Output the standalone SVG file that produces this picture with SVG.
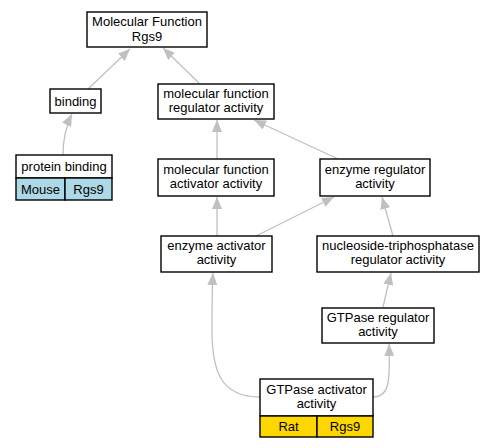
<svg xmlns="http://www.w3.org/2000/svg" width="493" height="448" viewBox="0 0 493 448">
<style>
.b{fill:#fff;stroke:#000;stroke-width:1.4}
.t{font-family:"Liberation Sans",Arial,sans-serif;font-size:13px;text-anchor:middle;fill:#000}
.e{fill:none;stroke:#c0c0c0;stroke-width:1.3}
.blue{fill:#add8e6;stroke:#000;stroke-width:1.4}
.gold{fill:#ffd700;stroke:#000;stroke-width:1.4}
</style>
<defs>
<marker id="a" viewBox="0 0 12 10" refX="12" refY="5" markerWidth="12" markerHeight="10" markerUnits="userSpaceOnUse" orient="auto">
<path d="M0,0 L12,5 L0,10 Z" fill="#c0c0c0"/>
</marker>
</defs>
<rect width="493" height="448" fill="#fff"/>
<g id="edges">
<path class="e" marker-end="url(#a)" d="M88,89 L130,49"/>
<path class="e" marker-end="url(#a)" d="M199,83 L163,48"/>
<path class="e" marker-end="url(#a)" d="M63,155 C63,140 66,126 72,114"/>
<path class="e" marker-end="url(#a)" d="M217,159 L217,120"/>
<path class="e" marker-end="url(#a)" d="M338,159 L254,120"/>
<path class="e" marker-end="url(#a)" d="M217,236 L217,197"/>
<path class="e" marker-end="url(#a)" d="M256,236 L334,197"/>
<path class="e" marker-end="url(#a)" d="M393,236 L382,197"/>
<path class="e" marker-end="url(#a)" d="M383,307 L391,273"/>
<path class="e" marker-end="url(#a)" d="M260,397 C220,397 212,370 212,330 C212,305 212,290 213,273"/>
<path class="e" marker-end="url(#a)" d="M373,397 C390,397 390,380 389,344"/>
</g>
<g id="n_mf">
<rect class="b" x="87" y="12" width="120" height="35"/>
<text class="t" x="147" y="26">Molecular Function</text>
<text class="t" x="147" y="41">Rgs9</text>
</g>
<g id="n_binding">
<rect class="b" x="50" y="89" width="51" height="24"/>
<text class="t" x="75.5" y="106">binding</text>
</g>
<g id="n_protein_binding">
<rect class="b" x="16" y="155" width="96" height="23"/>
<text class="t" x="64" y="171">protein binding</text>
<rect class="blue" x="16" y="178" width="49" height="22"/>
<rect class="blue" x="65" y="178" width="47" height="22"/>
<text class="t" x="40.5" y="193.5">Mouse</text>
<text class="t" x="88.5" y="193.5">Rgs9</text>
</g>
<g id="n_mfr">
<rect class="b" x="158" y="84" width="116" height="35"/>
<text class="t" x="216" y="98">molecular function</text>
<text class="t" x="216" y="112">regulator activity</text>
</g>
<g id="n_mfa">
<rect class="b" x="158" y="159" width="116" height="37"/>
<text class="t" x="216" y="174">molecular function</text>
<text class="t" x="216" y="188">activator activity</text>
</g>
<g id="n_er">
<rect class="b" x="320" y="159" width="110" height="37"/>
<text class="t" x="375" y="174">enzyme regulator</text>
<text class="t" x="375" y="188">activity</text>
</g>
<g id="n_ea">
<rect class="b" x="161" y="236" width="111" height="36"/>
<text class="t" x="216.5" y="250">enzyme activator</text>
<text class="t" x="216.5" y="264">activity</text>
</g>
<g id="n_ntp">
<rect class="b" x="317" y="236" width="162" height="36"/>
<text class="t" x="398" y="250">nucleoside-triphosphatase</text>
<text class="t" x="398" y="264">regulator activity</text>
</g>
<g id="n_gtpr">
<rect class="b" x="322" y="308" width="112" height="35"/>
<text class="t" x="378" y="322">GTPase regulator</text>
<text class="t" x="378" y="336">activity</text>
</g>
<g id="n_gtpa">
<rect class="b" x="260" y="379" width="113" height="37"/>
<text class="t" x="316.5" y="394">GTPase activator</text>
<text class="t" x="316.5" y="408">activity</text>
<rect class="gold" x="260" y="416" width="57" height="21"/>
<rect class="gold" x="317" y="416" width="56" height="21"/>
<text class="t" x="288.5" y="431">Rat</text>
<text class="t" x="345" y="431">Rgs9</text>
</g>
</svg>
